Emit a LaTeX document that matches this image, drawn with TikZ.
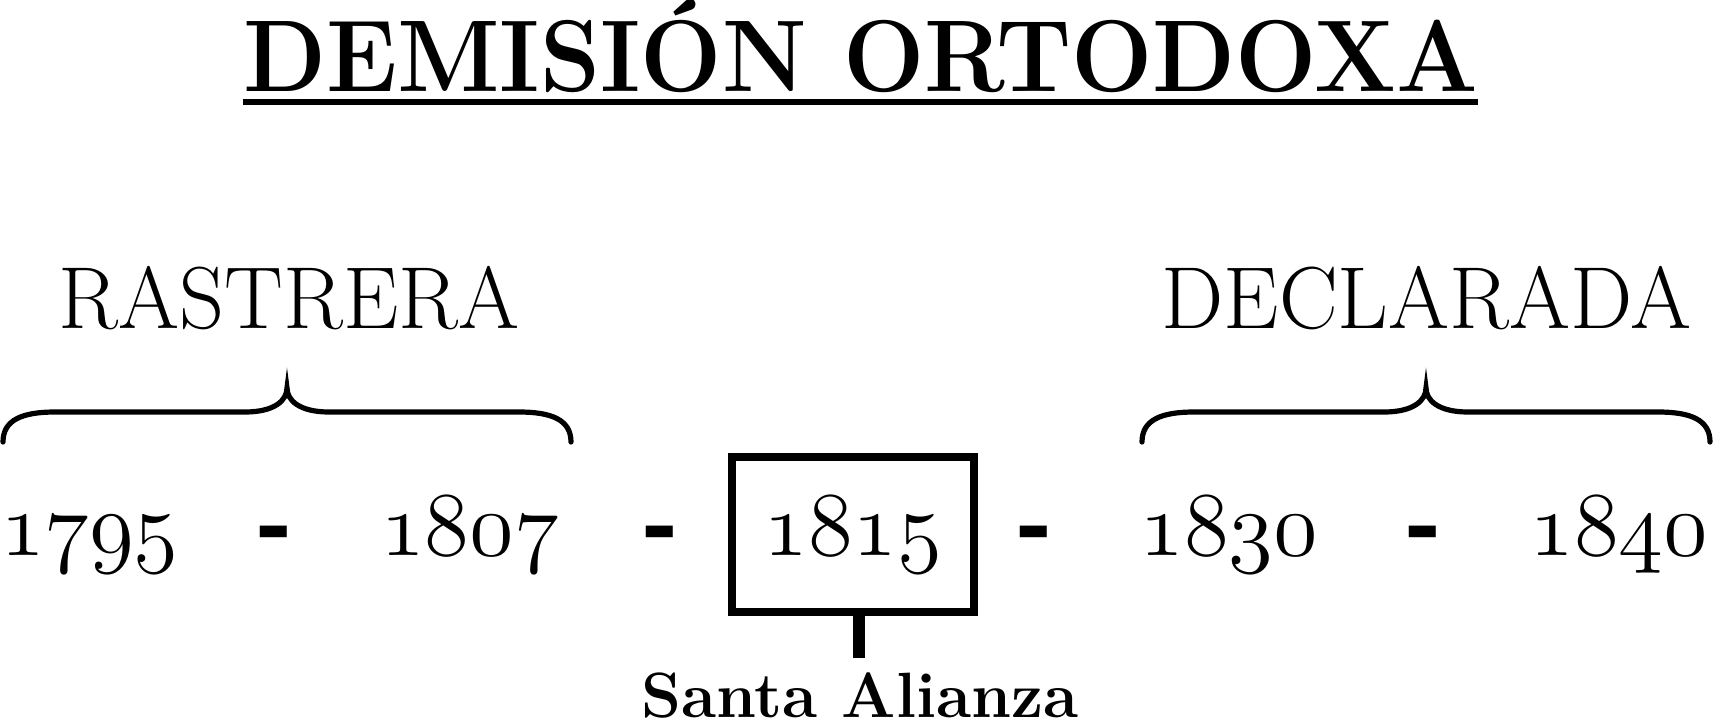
\documentclass[tikz,border=0pt]{standalone}
\usepackage{fontspec}
\setmainfont{Latin Modern Roman}
\newfontfamily\dashfont{DejaVu Serif}
\newcommand{\osnum}[1]{\scalebox{1.833}{\fontencoding{OML}\fontfamily{lmm}\fontseries{m}\fontshape{it}\fontsize{24}{30}\selectfont #1}}
\begin{document}
\begin{tikzpicture}[x=0.5pt,y=-0.5pt,
  txt/.style={inner sep=0pt,outer sep=0pt,anchor=base},
  yearlbl/.style={txt},
  dashlbl/.style={txt,font=\dashfont\bfseries\fontsize{44}{50}\selectfont},
  headlbl/.style={txt,font=\fontsize{44}{50}\selectfont},
  bracestyle/.style={line width=2.6pt,line cap=round},
  boxstyle/.style={draw,line width=4pt,minimum width=121pt,minimum height=77.5pt,inner sep=0pt}]
\useasboundingbox (0,0) rectangle (1714,725);
% title
\node[txt,font=\bfseries\fontsize{51}{56}\selectfont] (title) at (860.5,91) {\scalebox{0.944}[1]{DEMISIÓN ORTODOXA}};
\draw[line width=3pt] ([yshift=-5.5pt]title.base west) -- ([yshift=-5.5pt]title.base east);
% headings
\node[headlbl] (rastrera) at (289,328) {RASTRERA};
\node[headlbl] (declarada) at (1426.5,328) {DECLARADA};
% braces
\draw[bracestyle] (3,442) .. controls (3,420) and (22,412) .. (55,412) -- (245,412)
  .. controls (275,412) and (287,400) .. (287,388)
  .. controls (287,400) and (299,412) .. (329,412) -- (519,412)
  .. controls (552,412) and (571,420) .. (571,442);
\draw[bracestyle] (1142,442) .. controls (1142,420) and (1161,412) .. (1194,412) -- (1384,412)
  .. controls (1414,412) and (1426,400) .. (1426,388)
  .. controls (1426,400) and (1438,412) .. (1468,412) -- (1658,412)
  .. controls (1691,412) and (1710,420) .. (1710,442);
% years
\node[yearlbl] (y1795) at (89.5,555) {\osnum{1795}};
\node[dashlbl] (d1) at (274,555) {-};
\node[yearlbl] (y1807) at (469.5,555) {\osnum{1807}};
\node[dashlbl] (d2) at (660,555) {-};
\node[boxstyle] (box) at (853,534.5) {\osnum{1815}};
\node[dashlbl] (d3) at (1033.5,555) {-};
\node[yearlbl] (y1830) at (1229,555) {\osnum{1830}};
\node[dashlbl] (d4) at (1422.5,555) {-};
\node[yearlbl] (y1840) at (1619,555) {\osnum{1840}};
% Santa Alianza
\node[txt,font=\bfseries\fontsize{32}{36}\selectfont] (santa) at (860,717) {Santa Alianza};
\coordinate (stemend) at (859,658);
\draw[line width=6pt] (box.south -| stemend) -- (stemend);
\end{tikzpicture}
\end{document}
